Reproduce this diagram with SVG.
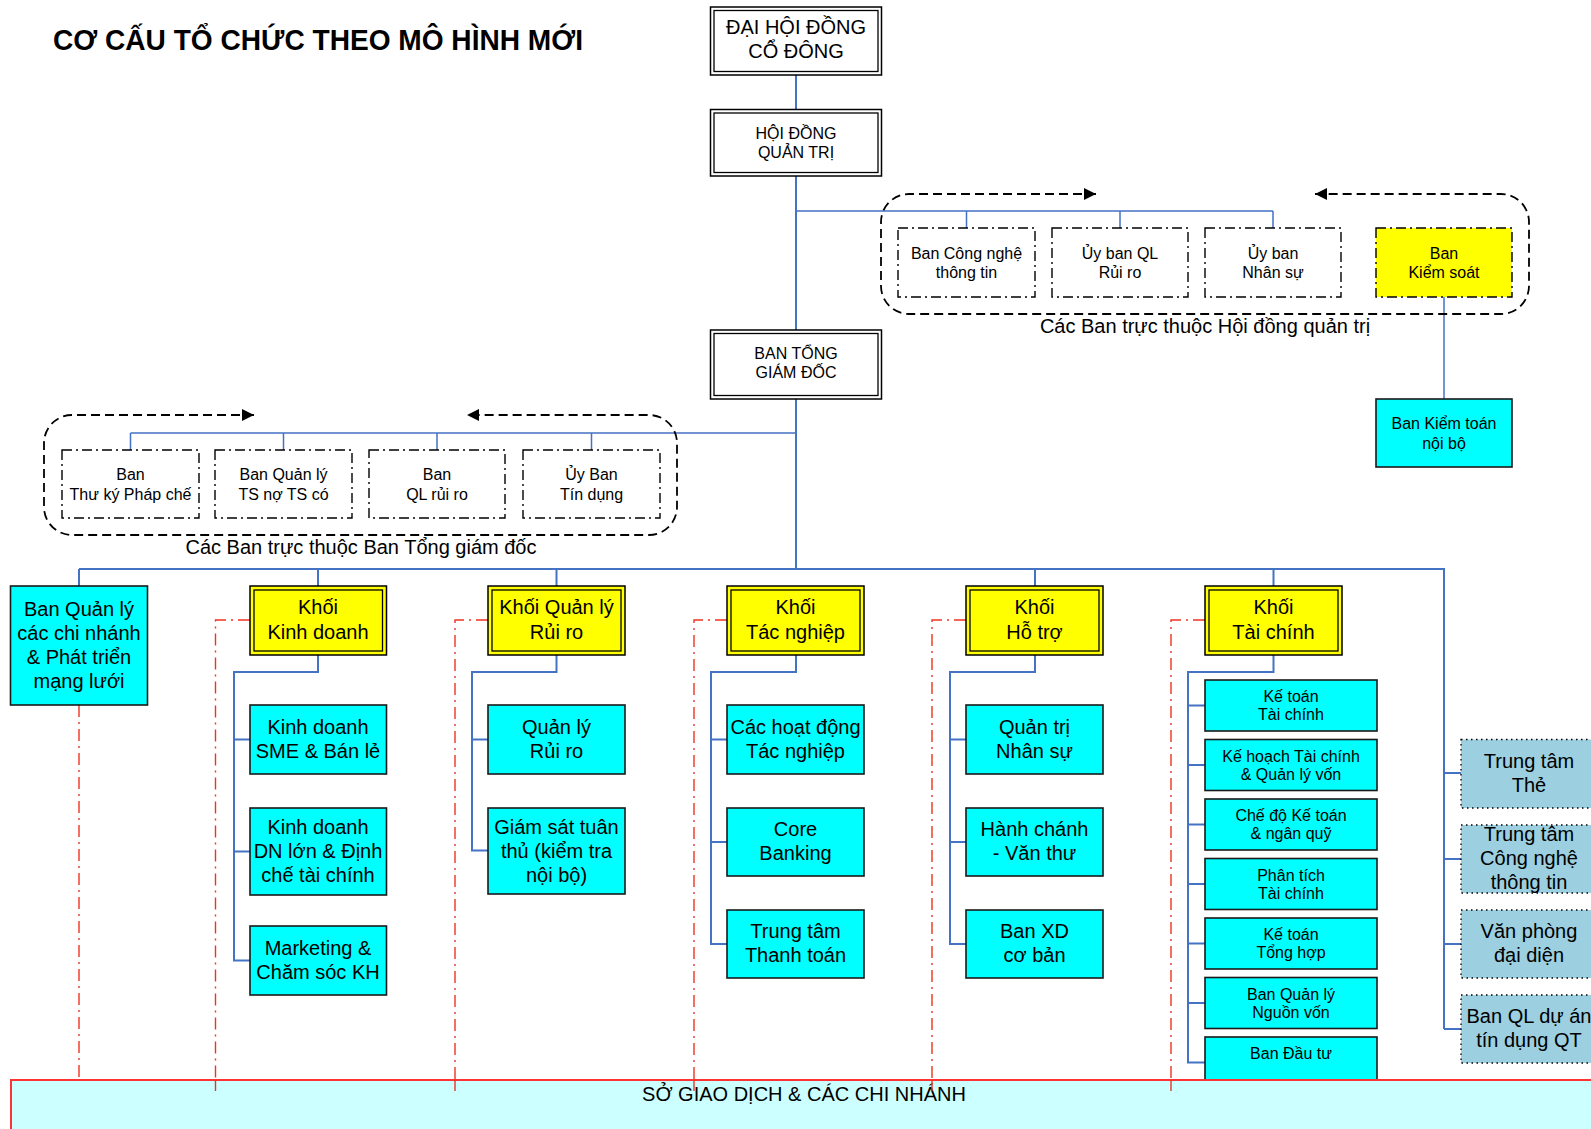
<svg xmlns="http://www.w3.org/2000/svg" width="1591" height="1129" viewBox="0 0 1591 1129">
<defs>
<style>
text{font-family:"Liberation Sans",Arial,sans-serif;fill:#000;text-anchor:middle}
.t20{font-size:20px}
.t16{font-size:16px}
.title{font-size:29px;font-weight:bold;text-anchor:start}
.dbl{fill:#fff;stroke:#000;stroke-width:1.5}
.ylw{fill:#ffff00;stroke:#000;stroke-width:1.5}
.in{fill:none;stroke:#000;stroke-width:1.3}
.cyan{fill:#00ffff;stroke:#1a1a1a;stroke-width:1.6}
.cmt{fill:#fff;stroke:#000;stroke-width:1.4;stroke-dasharray:10 4 2 4}
.cmty{fill:#ffff00;stroke:#000;stroke-width:1.4;stroke-dasharray:10 4 2 4}
.grp{fill:none;stroke:#000;stroke-width:1.8;stroke-dasharray:9 5}
.side{fill:#9ccfdf;stroke:#000;stroke-width:1.3;stroke-dasharray:1.5 3.5}
.blue{fill:none;stroke:#4472c4;stroke-width:2}
.blue1{fill:none;stroke:#4472c4;stroke-width:1.5}
.red{fill:none;stroke:#ee3322;stroke-width:1.4;stroke-dasharray:12 5 2 5}
.base{fill:#ccffff;stroke:#ff3333;stroke-width:2}
</style>
<marker id="arr" viewBox="0 0 10 10" refX="10" refY="5" markerWidth="13" markerHeight="12" markerUnits="userSpaceOnUse" orient="auto-start-reverse">
<path d="M0,0 L10,5 L0,10 z" fill="#000"/>
</marker>
</defs>
<rect width="1591" height="1129" fill="#fff"/>
<text class="title" x="53" y="50" textLength="530" lengthAdjust="spacingAndGlyphs">CƠ CẤU TỔ CHỨC THEO MÔ HÌNH MỚI</text>

<g id="connectors">
<path class="blue" d="M796,75 V109.5 M796,176 V330 M796,399 V569"/>
<path class="blue1" d="M796,211 H1273 M966.5,211 V228 M1120,211 V228 M1273,211 V228"/>
<path class="blue1" d="M1444,297 V399"/>
<path class="blue1" d="M130.5,433 H796 M130.5,433 V450 M283.5,433 V450 M437,433 V450 M591.5,433 V450"/>
<path class="blue" d="M79,569 H1444 V1029 M79,569 V586 M318,569 V586 M556.5,569 V586 M1035,569 V586 M1273.5,569 V586"/>
<path class="blue" d="M1444,773 H1461 M1444,859 H1461 M1444,944 H1461 M1444,1029 H1461"/>
<path class="blue" d="M318,655 V672 H234 V960.5 H250 M234,739.5 H250 M234,851.5 H250"/>
<path class="blue" d="M556.5,655 V672 H472 V850.5 H488 M472,739.5 H488"/>
<path class="blue" d="M796,655 V672 H711 V944 H727 M711,739.5 H727 M711,842 H727"/>
<path class="blue" d="M1035,655 V672 H950 V944 H966 M950,739.5 H966 M950,842 H966"/>
<path class="blue" d="M1273.5,655 V672 H1188 V1062.5 H1205 M1188,705.5 H1205 M1188,765 H1205 M1188,824.5 H1205 M1188,884 H1205 M1188,943.5 H1205 M1188,1003 H1205"/>
<path class="red" d="M79,705 V1081"/>
<path class="red" d="M250,620 H215.5 V1091"/>
<path class="red" d="M488,620 H455 V1091"/>
<path class="red" d="M727,620 H694 V1091"/>
<path class="red" d="M966,620 H932 V1091"/>
<path class="red" d="M1205,620 H1171 V1091"/>
<path class="grp" d="M1096,194 H909 A28,28 0 0 0 881,222 V286 A28,28 0 0 0 909,314 H1501 A28,28 0 0 0 1529,286 V222 A28,28 0 0 0 1501,194 H1315" marker-start="url(#arr)" marker-end="url(#arr)"/>
<path class="grp" d="M254,415 H72 A28,28 0 0 0 44,443 V507 A28,28 0 0 0 72,535 H649 A28,28 0 0 0 677,507 V443 A28,28 0 0 0 649,415 H467" marker-start="url(#arr)" marker-end="url(#arr)"/>
</g>

<text class="t20" x="1205" y="333">Các Ban trực thuộc Hội đồng quản trị</text>
<text class="t20" x="361" y="554">Các Ban trực thuộc Ban Tổng giám đốc</text>

<g id="n-dhdcd"><rect class="dbl" x="710.5" y="7" width="171" height="68"/><rect class="in" x="714" y="10.5" width="164" height="61"/><text class="t20" x="796" y="34">ĐẠI HỘI ĐỒNG</text><text class="t20" x="796" y="58">CỔ ĐÔNG</text></g>
<g id="n-hdqt"><rect class="dbl" x="710.5" y="109.5" width="171" height="66.5"/><rect class="in" x="714" y="113" width="164" height="59.5"/><text class="t16" x="796" y="139">HỘI ĐỒNG</text><text class="t16" x="796" y="158">QUẢN TRỊ</text></g>
<g id="n-btgd"><rect class="dbl" x="710.5" y="330" width="171" height="69"/><rect class="in" x="714" y="333.5" width="164" height="62"/><text class="t16" x="796" y="359">BAN TỔNG</text><text class="t16" x="796" y="378">GIÁM ĐỐC</text></g>

<g id="n-cntt"><rect class="cmt" x="898" y="228" width="137" height="69"/><text class="t16" x="966.5" y="259">Ban Công nghệ</text><text class="t16" x="966.5" y="278">thông tin</text></g>
<g id="n-ubqlrr"><rect class="cmt" x="1052" y="228" width="136" height="69"/><text class="t16" x="1120" y="259">Ủy ban QL</text><text class="t16" x="1120" y="278">Rủi ro</text></g>
<g id="n-ubns"><rect class="cmt" x="1205" y="228" width="136" height="69"/><text class="t16" x="1273" y="259">Ủy ban</text><text class="t16" x="1273" y="278">Nhân sự</text></g>
<g id="n-bks"><rect class="cmty" x="1376" y="228" width="136" height="69"/><text class="t16" x="1444" y="259">Ban</text><text class="t16" x="1444" y="278">Kiểm soát</text></g>
<g id="n-bktnb"><rect class="cyan" x="1376" y="399" width="136" height="68"/><text class="t16" x="1444" y="429">Ban Kiểm toán</text><text class="t16" x="1444" y="449">nội bộ</text></g>

<g id="n-tkpc"><rect class="cmt" x="62" y="450" width="137" height="68"/><text class="t16" x="130.5" y="480">Ban</text><text class="t16" x="130.5" y="500">Thư ký Pháp chế</text></g>
<g id="n-qlts"><rect class="cmt" x="215" y="450" width="137" height="68"/><text class="t16" x="283.5" y="480">Ban Quản lý</text><text class="t16" x="283.5" y="500">TS nợ TS có</text></g>
<g id="n-qlrr"><rect class="cmt" x="369" y="450" width="136" height="68"/><text class="t16" x="437" y="480">Ban</text><text class="t16" x="437" y="500">QL rủi ro</text></g>
<g id="n-ubtd"><rect class="cmt" x="523" y="450" width="137" height="68"/><text class="t16" x="591.5" y="480">Ủy Ban</text><text class="t16" x="591.5" y="500">Tín dụng</text></g>

<g id="n-qlcn"><rect class="cyan" x="10.5" y="586" width="137" height="119"/><text class="t20" x="79" y="616">Ban Quản lý</text><text class="t20" x="79" y="640">các chi nhánh</text><text class="t20" x="79" y="664">&amp; Phát triển</text><text class="t20" x="79" y="688">mạng lưới</text></g>

<g id="n-kkd"><rect class="ylw" x="250" y="586" width="136.5" height="69"/><rect class="in" x="254" y="590" width="128.5" height="61"/><text class="t20" x="318" y="614">Khối</text><text class="t20" x="318" y="639">Kinh doanh</text></g>
<g id="n-kqlrr"><rect class="ylw" x="488" y="586" width="137" height="69"/><rect class="in" x="492" y="590" width="129" height="61"/><text class="t20" x="556.5" y="614">Khối Quản lý</text><text class="t20" x="556.5" y="639">Rủi ro</text></g>
<g id="n-ktn"><rect class="ylw" x="727" y="586" width="137" height="69"/><rect class="in" x="731" y="590" width="129" height="61"/><text class="t20" x="795.5" y="614">Khối</text><text class="t20" x="795.5" y="639">Tác nghiệp</text></g>
<g id="n-kht"><rect class="ylw" x="966" y="586" width="137" height="69"/><rect class="in" x="970" y="590" width="129" height="61"/><text class="t20" x="1034.5" y="614">Khối</text><text class="t20" x="1034.5" y="639">Hỗ trợ</text></g>
<g id="n-ktc"><rect class="ylw" x="1205" y="586" width="137" height="69"/><rect class="in" x="1209" y="590" width="129" height="61"/><text class="t20" x="1273.5" y="614">Khối</text><text class="t20" x="1273.5" y="639">Tài chính</text></g>

<g id="n-kdsme"><rect class="cyan" x="250" y="705" width="136.5" height="69"/><text class="t20" x="318" y="734">Kinh doanh</text><text class="t20" x="318" y="758">SME &amp; Bán lẻ</text></g>
<g id="n-kddn"><rect class="cyan" x="250" y="808" width="136.5" height="87"/><text class="t20" x="318" y="834">Kinh doanh</text><text class="t20" x="318" y="858">DN lớn &amp; Định</text><text class="t20" x="318" y="882">chế tài chính</text></g>
<g id="n-mkt"><rect class="cyan" x="250" y="926" width="136.5" height="69"/><text class="t20" x="318" y="955">Marketing &amp;</text><text class="t20" x="318" y="979">Chăm sóc KH</text></g>

<g id="n-qlrr2"><rect class="cyan" x="488" y="705" width="137" height="69"/><text class="t20" x="556.5" y="734">Quản lý</text><text class="t20" x="556.5" y="758">Rủi ro</text></g>
<g id="n-gstt"><rect class="cyan" x="488" y="808" width="137" height="86"/><text class="t20" x="556.5" y="834">Giám sát tuân</text><text class="t20" x="556.5" y="858">thủ (kiểm tra</text><text class="t20" x="556.5" y="882">nội bộ)</text></g>

<g id="n-hdtn"><rect class="cyan" x="727" y="705" width="137" height="69"/><text class="t20" x="795.5" y="734">Các hoạt động</text><text class="t20" x="795.5" y="758">Tác nghiệp</text></g>
<g id="n-core"><rect class="cyan" x="727" y="808" width="137" height="68"/><text class="t20" x="795.5" y="836">Core</text><text class="t20" x="795.5" y="860">Banking</text></g>
<g id="n-tttt"><rect class="cyan" x="727" y="910" width="137" height="68"/><text class="t20" x="795.5" y="938">Trung tâm</text><text class="t20" x="795.5" y="962">Thanh toán</text></g>

<g id="n-qtns"><rect class="cyan" x="966" y="705" width="137" height="69"/><text class="t20" x="1034.5" y="734">Quản trị</text><text class="t20" x="1034.5" y="758">Nhân sự</text></g>
<g id="n-hcvt"><rect class="cyan" x="966" y="808" width="137" height="68"/><text class="t20" x="1034.5" y="836">Hành chánh</text><text class="t20" x="1034.5" y="860">- Văn thư</text></g>
<g id="n-xdcb"><rect class="cyan" x="966" y="910" width="137" height="68"/><text class="t20" x="1034.5" y="938">Ban XD</text><text class="t20" x="1034.5" y="962">cơ bản</text></g>

<g id="n-kttc"><rect class="cyan" x="1205" y="680" width="172" height="51"/><text class="t16" x="1291" y="702">Kế toán</text><text class="t16" x="1291" y="720">Tài chính</text></g>
<g id="n-khtc"><rect class="cyan" x="1205" y="739.5" width="172" height="51"/><text class="t16" x="1291" y="761.5">Kế hoạch Tài chính</text><text class="t16" x="1291" y="779.5">&amp; Quản lý vốn</text></g>
<g id="n-cdkt"><rect class="cyan" x="1205" y="799" width="172" height="51"/><text class="t16" x="1291" y="821">Chế độ Kế toán</text><text class="t16" x="1291" y="839">&amp; ngân quỹ</text></g>
<g id="n-pttc"><rect class="cyan" x="1205" y="858.5" width="172" height="51"/><text class="t16" x="1291" y="880.5">Phân tích</text><text class="t16" x="1291" y="898.5">Tài chính</text></g>
<g id="n-ktth"><rect class="cyan" x="1205" y="918" width="172" height="51"/><text class="t16" x="1291" y="940">Kế toán</text><text class="t16" x="1291" y="958">Tổng hợp</text></g>
<g id="n-qlnv"><rect class="cyan" x="1205" y="977.5" width="172" height="51"/><text class="t16" x="1291" y="999.5">Ban Quản lý</text><text class="t16" x="1291" y="1017.5">Nguồn vốn</text></g>
<g id="n-bdt"><rect class="cyan" x="1205" y="1037" width="172" height="51"/><text class="t16" x="1291" y="1059">Ban Đầu tư</text></g>

<g id="n-ttthe"><rect class="side" x="1461" y="739.5" width="137" height="68.5"/><text class="t20" x="1529" y="768">Trung tâm</text><text class="t20" x="1529" y="792">Thẻ</text></g>
<g id="n-ttcntt"><rect class="side" x="1461" y="825" width="137" height="68"/><text class="t20" x="1529" y="841">Trung tâm</text><text class="t20" x="1529" y="865">Công nghệ</text><text class="t20" x="1529" y="889">thông tin</text></g>
<g id="n-vpdd"><rect class="side" x="1461" y="910" width="137" height="68"/><text class="t20" x="1529" y="938">Văn phòng</text><text class="t20" x="1529" y="962">đại diện</text></g>
<g id="n-bqlda"><rect class="side" x="1461" y="995" width="137" height="68"/><text class="t20" x="1529" y="1023">Ban QL dự án</text><text class="t20" x="1529" y="1047">tín dụng QT</text></g>

<g id="n-sgd"><rect class="base" x="11" y="1080" width="1600" height="60"/><text class="t20" x="804" y="1101">SỞ GIAO DỊCH &amp; CÁC CHI NHÁNH</text></g>
<path class="red" d="M215.5,1080 V1091 M455,1080 V1091 M694,1080 V1091 M932,1080 V1091 M1171,1080 V1091"/>
</svg>
